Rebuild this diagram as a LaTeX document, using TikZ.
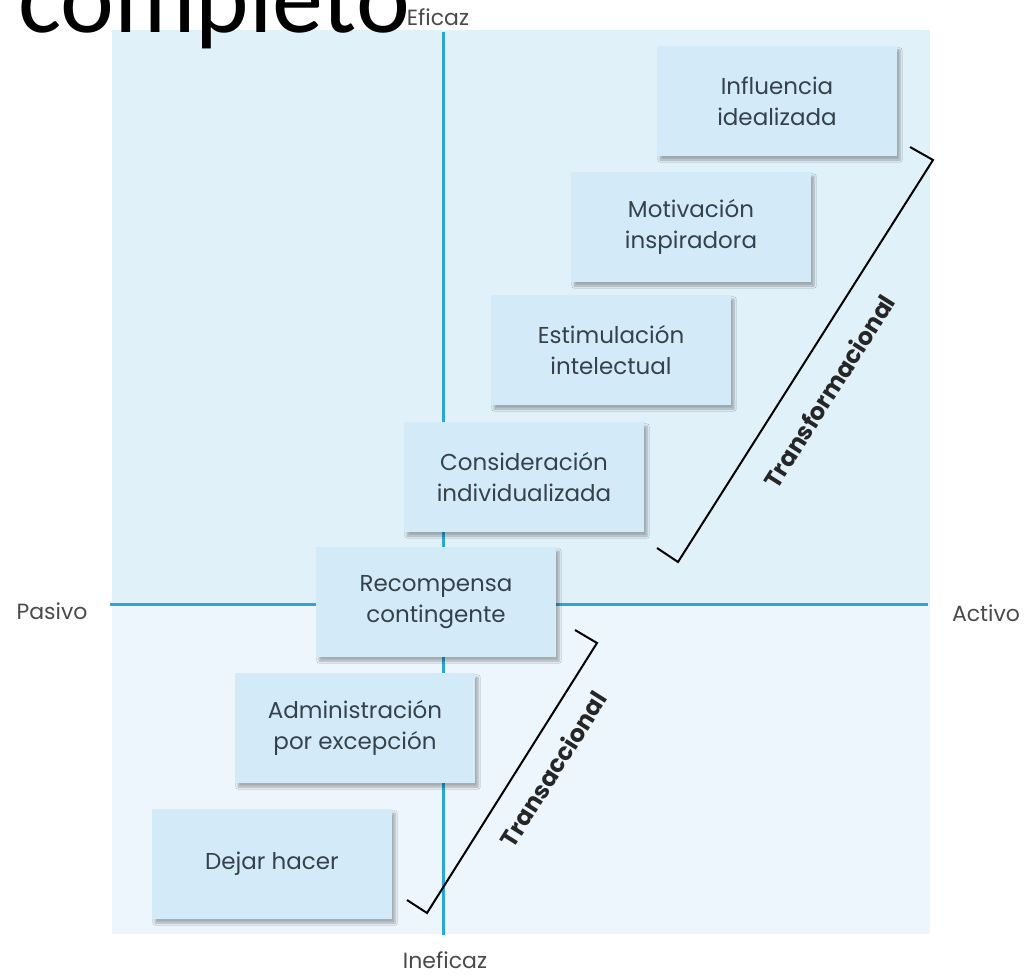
\documentclass[tikz,border=0pt]{standalone}
\usepackage{fontspec}
\setmainfont{Poppins}
\newfontfamily\bigfont{Carlito}
\usepackage{xcolor}
\usetikzlibrary{shadows.blur}

\definecolor{upperbg}{HTML}{E1F1FA}
\definecolor{lowerbg}{HTML}{EDF6FC}
\definecolor{boxfill}{HTML}{D3EBF8}
\definecolor{axisblue}{HTML}{2BA6D6}
\definecolor{boxtext}{HTML}{35424A}
\definecolor{labeltext}{HTML}{4A4A4A}

\tikzset{
    stage/.style={rectangle, fill=boxfill, minimum width=240pt, minimum height=110pt,
        align=center, text=boxtext, font=\fontsize{23}{31}\selectfont,
        blur shadow={shadow xshift=3pt, shadow yshift=-4pt, shadow blur steps=6, shadow opacity=30}},
    axislabel/.style={text=labeltext, font=\fontsize{22}{26}\selectfont},
    bracket/.style={line width=2pt, black},
    bracketlabel/.style={font=\fontsize{24}{26}\selectfont\bfseries, text=black!85}
}

\begin{document}
\begin{tikzpicture}[x=1pt, y=-1pt]
    \useasboundingbox (0,0) rectangle (1032,976);

    % background quadrants
    \fill[upperbg] (112,30) rectangle (930,604);
    \fill[lowerbg] (112,604) rectangle (930,934);

    % axes
    \coordinate (top) at (443,32);
    \coordinate (bottom) at (443,935);
    \coordinate (left) at (110,604);
    \coordinate (right) at (928,604);
    \draw[axisblue, line width=3pt] (top) -- (bottom);
    \draw[axisblue, line width=3pt] (left) -- (right);

    \node[axislabel] (eficaz) at (438,17) {Eficaz};
    \node[axislabel] (ineficaz) at (445,960) {Ineficaz};
    \node[axislabel] (pasivo) at (52,611) {Pasivo};
    \node[axislabel] (activo) at (986,613) {Activo};

    % stages
    \foreach \x/\y/\name/\label in {
        777/101/influencia/{Influencia\\idealizada},
        691/227/motivacion/{Motivación\\inspiradora},
        611/350/estimulacion/{Estimulación\\intelectual},
        524/477/consideracion/{Consideración\\individualizada},
        436/602/recompensa/{Recompensa\\contingente},
        355/728/administracion/{Administración\\por excepción},
        272/864/dejar/{Dejar hacer}} {
        \node[stage] (\name) at (\x,\y) {\label};
    }

    % brackets
    \draw[bracket] (910,147) -- (933,160) -- (678,562) -- (657,548);
    \draw[bracket] (575,630) -- (597,643) -- (427,913) -- (407,900);
    \node[bracketlabel, rotate=57.6] (transf) at (829,391) {Transformacional};
    \node[bracketlabel, rotate=57.8] (transa) at (553,769) {Transaccional};

    \node[anchor=base west, inner sep=0pt, font=\bigfont\fontsize{102}{110}\selectfont] (titulo) at (18,33) {completo};
\end{tikzpicture}
\end{document}
